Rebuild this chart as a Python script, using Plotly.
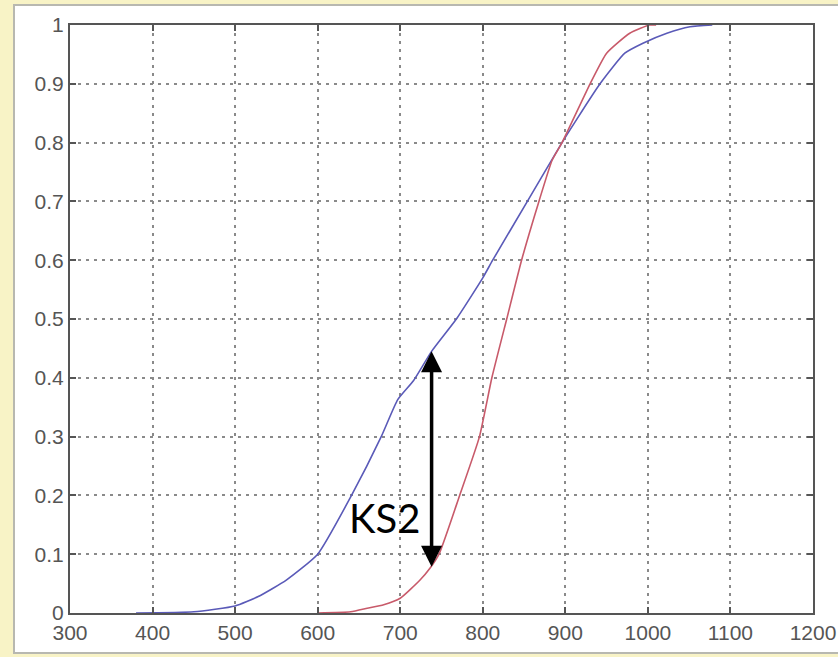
import plotly.graph_objects as go

# Blue CDF (sample 1)
blue_x = [380, 450, 500, 528, 562, 600, 641, 677, 697, 716, 738, 768, 800, 812, 854, 896, 914, 942, 972, 994, 1023, 1051, 1078]
blue_y = [0.0, 0.002, 0.012, 0.028, 0.056, 0.10, 0.20, 0.30, 0.363, 0.395, 0.445, 0.50, 0.57, 0.60, 0.70, 0.80, 0.84, 0.90, 0.952, 0.969, 0.986, 0.997, 1.0]

# Red CDF (sample 2)
red_x = [600, 640, 660, 680, 700, 724, 736, 747, 772, 796, 811, 829, 847, 868, 884, 896, 930, 950, 978, 1002, 1010]
red_y = [0.0, 0.002, 0.008, 0.014, 0.025, 0.056, 0.076, 0.10, 0.20, 0.30, 0.40, 0.50, 0.60, 0.70, 0.77, 0.80, 0.90, 0.952, 0.986, 1.0, 1.0]

# KS statistic arrow
ks_x = 738
ks_low = 0.076
ks_high = 0.445
ks_label = "KS2"

x_ticks = [300, 400, 500, 600, 700, 800, 900, 1000, 1100, 1200]
y_ticks = [0, 0.1, 0.2, 0.3, 0.4, 0.5, 0.6, 0.7, 0.8, 0.9, 1]
y_tick_text = ["0", "0.1", "0.2", "0.3", "0.4", "0.5", "0.6", "0.7", "0.8", "0.9", "1"]

W, H = 838, 657
L, R, T, B = 70, 25, 25, 44
pw, ph = W - L - R, H - T - B

def px_x(p):
    return (p - L) / pw

def px_y(p):
    return (H - B - p) / ph

fig = go.Figure()
fig.add_trace(go.Scatter(x=blue_x, y=blue_y, mode="lines",
                         line=dict(color="#5a5ab8", width=1.6, shape="spline", smoothing=0.5),
                         showlegend=False))
fig.add_trace(go.Scatter(x=red_x, y=red_y, mode="lines",
                         line=dict(color="#c85a6a", width=1.6, shape="spline", smoothing=0.5),
                         showlegend=False))

# white window frame
fig.add_shape(type="rect", xref="paper", yref="paper",
              x0=px_x(14), x1=px_x(850), y0=px_y(653), y1=px_y(5),
              fillcolor="white", line=dict(color="#b8b8b0", width=2), layer="below")

# double-headed KS arrow
fig.add_annotation(x=ks_x, y=ks_high, ax=ks_x, ay=ks_low, xref="x", yref="y",
                   axref="x", ayref="y", showarrow=True, arrowhead=2, arrowside="end+start",
                   arrowsize=1.2, arrowwidth=3.5, arrowcolor="black", text="")
fig.add_annotation(x=ks_x, y=0.162, xref="x", yref="y", text=ks_label, showarrow=False,
                   xanchor="right", xshift=-10,
                   font=dict(family="Lato, Open Sans, sans-serif", size=40, color="black"))

axis_common = dict(showline=True, linecolor="#555555", linewidth=2, mirror="ticks",
                   ticks="inside", ticklen=6, tickcolor="#555555", tickwidth=2,
                   showgrid=True, gridcolor="#8a8a8a", gridwidth=1.5, griddash="3px,5px",
                   zeroline=False, automargin=False,
                   tickfont=dict(family="Liberation Sans, Arial, sans-serif", size=21, color="#555555"))

fig.update_xaxes(range=[300, 1200], tickvals=x_ticks, **axis_common)
fig.update_yaxes(range=[0, 1], tickvals=y_ticks, ticktext=y_tick_text, **axis_common)

fig.update_layout(width=W, height=H, margin=dict(l=L, r=R, t=T, b=B, pad=0, autoexpand=False),
                  paper_bgcolor="#f8f3c6", plot_bgcolor="white", showlegend=False)

fig.write_html("out.html", config={"displayModeBar": False},
               post_script="document.body.style.margin='0';document.body.style.overflow='hidden';document.body.style.background='#f8f3c6';")
